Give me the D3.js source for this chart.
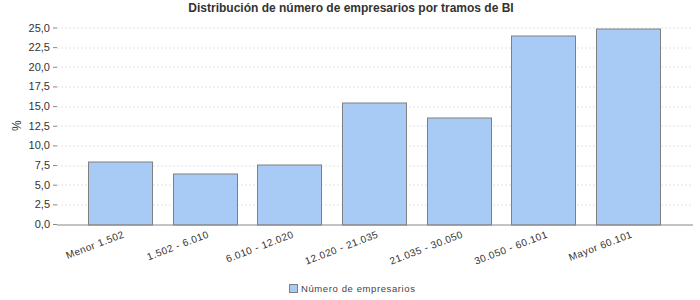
<!DOCTYPE html>
<html>
<head>
<meta charset="utf-8">
<script src="https://cdn.jsdelivr.net/npm/d3@7"></script>
<style>
body { margin: 0; background: #fff; }
text { font-family: "Liberation Sans", Arial, sans-serif; }
</style>
</head>
<body>
<div id="chart"></div>
<script>
const width = 700
const height = 300
const margin = { top: 27.5, bottom: 76, right: 9, left: 57 }

const categories = ["Menor 1.502", "1.502 - 6.010", "6.010 - 12.020", "12.020 - 21.035", "21.035 - 30.050", "30.050 - 60.101", "Mayor 60.101"]
const values = [8.0, 6.45, 7.6, 15.5, 13.55, 24.0, 24.9]
const yTicks = [0, 2.5, 5, 7.5, 10, 12.5, 15, 17.5, 20, 22.5, 25]
const seriesName = "Número de empresarios"
const title = "Distribución de número de empresarios por tramos de BI"

const svg = d3.select("div#chart").append("svg").attr("width", width).attr("height", height)

const innerW = width - margin.left - margin.right
const innerH = height - margin.top - margin.bottom

const x = d3.scaleBand().domain(categories).range([0, innerW]).paddingInner(0.245).paddingOuter(0.366)
const y = d3.scaleLinear().domain([0, 25]).range([innerH, 0])

const g = svg.append("g").attr("transform", `translate(${margin.left}, ${margin.top})`)

// gridlines
g.append("g").selectAll("line").data(yTicks.slice(1)).enter().append("line")
    .attr("x1", 0).attr("x2", innerW)
    .attr("y1", d => Math.round(y(d)) + 0.5).attr("y2", d => Math.round(y(d)) + 0.5)
    .attr("stroke", "#e2e2e2").attr("stroke-dasharray", "2,2")

// y axis
const fmt = d => d3.format(".1f")(d).replace(".", ",")
const yAxis = d3.axisLeft(y).tickValues(yTicks).tickFormat(fmt).tickSize(4).tickPadding(3)
const yAxisGroup = g.append("g").call(yAxis)
yAxisGroup.select(".domain").remove()
yAxisGroup.selectAll(".tick line").attr("stroke", "#888")
yAxisGroup.selectAll("text").attr("font-size", 11).attr("fill", "#333")
    .attr("font-family", "Liberation Sans, Arial, sans-serif")

// bars
g.selectAll("rect.bar").data(values).enter().append("rect")
    .attr("class", "bar")
    .attr("x", (d, i) => Math.round(x(categories[i])) + 0.5)
    .attr("y", d => Math.round(y(d)) + 0.5)
    .attr("width", Math.round(x.bandwidth()))
    .attr("height", d => Math.round(y(0)) - Math.round(y(d)))
    .attr("fill", "#a8cbf5")
    .attr("stroke", "#808080")
    .attr("stroke-width", 1)

// x axis
const xAxis = d3.axisBottom(x).tickSize(0).tickPadding(0)
const xAxisGroup = g.append("g").attr("transform", `translate(0, ${Math.round(innerH) + 0.5})`).call(xAxis)
xAxisGroup.select(".domain").attr("stroke", "#888").attr("d", `M0,0H${innerW + 2}`)
xAxisGroup.selectAll("text")
    .attr("font-size", 10).attr("fill", "#333")
    .attr("font-family", "Liberation Sans, Arial, sans-serif")
    .attr("letter-spacing", 0.5)
    .attr("text-anchor", "end")
    .attr("dy", null).attr("y", 0)
    .attr("transform", "translate(5, 12) rotate(-21)")

// title
svg.append("text").attr("x", 351).attr("y", 12).attr("text-anchor", "middle")
    .attr("font-size", 12).attr("font-weight", "bold").attr("fill", "#333").text(title)

// y label
svg.append("text").attr("transform", `translate(21, ${margin.top + innerH / 2}) rotate(-90)`)
    .attr("text-anchor", "middle").attr("font-size", 12).attr("fill", "#333").text("%")

// legend
const legend = svg.append("g").attr("transform", "translate(289, 284)")
legend.append("rect").attr("x", 0.5).attr("y", 0.5).attr("width", 8).attr("height", 8)
    .attr("fill", "#a8cbf5").attr("stroke", "#808080")
legend.append("text").attr("x", 12).attr("y", 8).attr("font-size", 9.5).attr("fill", "#444")
    .attr("letter-spacing", 0.6).attr("font-family", "DejaVu Sans, sans-serif").text(seriesName)
</script>
</body>
</html>
